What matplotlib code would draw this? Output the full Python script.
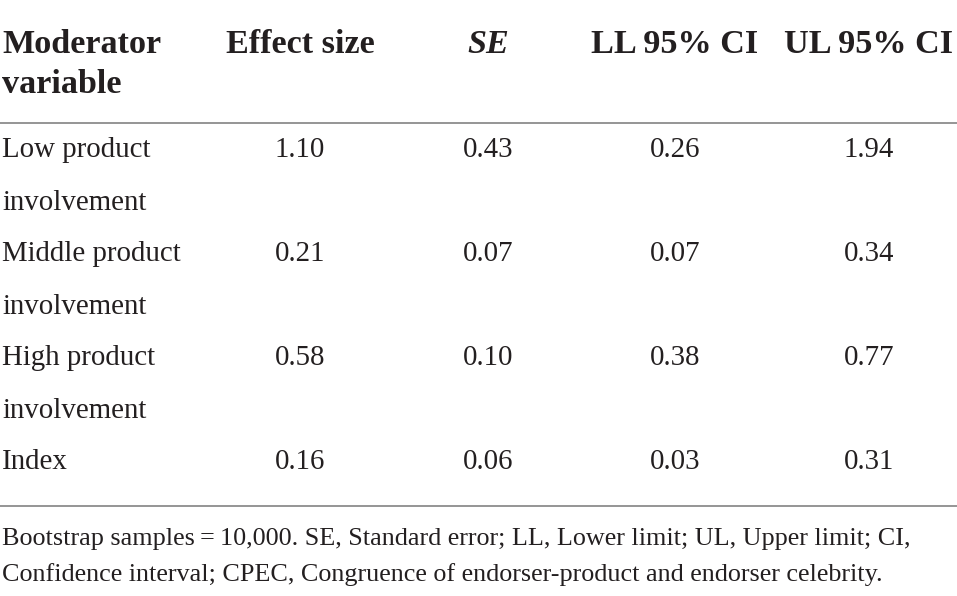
import matplotlib
matplotlib.use("Agg")
import matplotlib.pyplot as plt

# ---- data ----
headers = ["Moderator\nvariable", "Effect size", "SE", "LL 95% CI", "UL 95% CI"]
row_labels = ["Low product\ninvolvement", "Middle product\ninvolvement",
              "High product\ninvolvement", "Index"]
effect_size = ["1.10", "0.21", "0.58", "0.16"]
se = ["0.43", "0.07", "0.10", "0.06"]
ll_ci = ["0.26", "0.07", "0.38", "0.03"]
ul_ci = ["1.94", "0.34", "0.77", "0.31"]
footnote = ["Bootstrap samples\u2009=\u200910,000. SE, Standard error; LL, Lower limit; UL, Upper limit; CI,",
            "Confidence interval; CPEC, Congruence of endorser-product and endorser celebrity."]

W, H = 957, 596
fig = plt.figure(figsize=(W / 100, H / 100), dpi=100)
ax = fig.add_axes([0, 0, 1, 1])
ax.set_xlim(0, W)
ax.set_ylim(H, 0)
ax.axis("off")

txt = "#231f20"
font = "Liberation Serif"
body_fs = 20.8
head_fs = 24.6
foot_fs = 18.8

col_x = [2, 300, 488, 675, 869]
head_base = 53
head_lh = 40

# headers
for i, h in enumerate(headers):
    lines = h.split("\n")
    for j, ln in enumerate(lines):
        ax.text(col_x[i], head_base + j * head_lh, ln,
                ha="left" if i == 0 else "center", va="baseline",
                fontsize=head_fs, fontweight="bold",
                fontstyle="italic" if h == "SE" else "normal",
                family=font, color=txt)

# rules
ax.plot([0, W], [123, 123], color="#8c8c8c", lw=1.3, solid_capstyle="butt")
ax.plot([0, W], [506, 506], color="#8c8c8c", lw=1.3, solid_capstyle="butt")

row0 = 157
row_step = 104
line_h = 53
cols = [effect_size, se, ll_ci, ul_ci]
for r, lab in enumerate(row_labels):
    yb = row0 + r * row_step
    for j, ln in enumerate(lab.split("\n")):
        ax.text(col_x[0], yb + j * line_h, ln, ha="left", va="baseline",
                fontsize=body_fs, family=font, color=txt)
    for c, vals in enumerate(cols):
        ax.text(col_x[c + 1], yb, vals[r], ha="center", va="baseline",
                fontsize=body_fs, family=font, color=txt)

# footnote
for k, ln in enumerate(footnote):
    ax.text(2, 545 + k * 36, ln, ha="left", va="baseline",
            fontsize=foot_fs, family=[font, "DejaVu Serif"], color=txt)

fig.savefig("out.png", dpi=100, facecolor="white")
